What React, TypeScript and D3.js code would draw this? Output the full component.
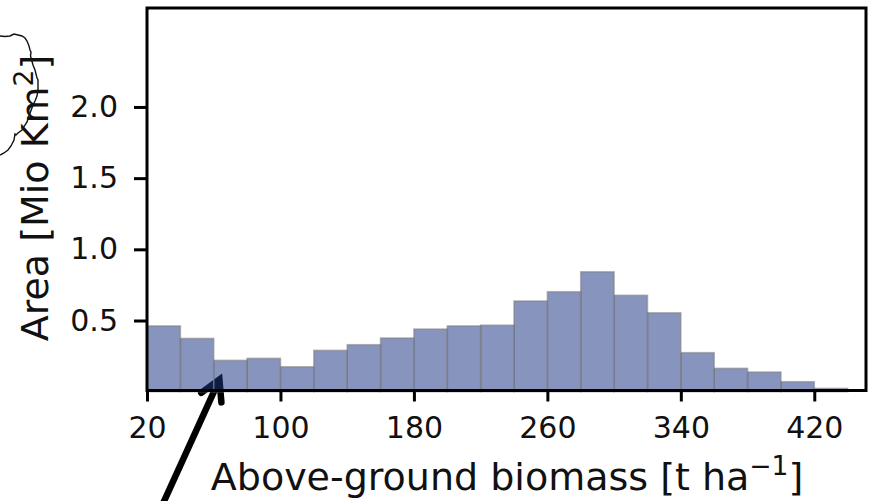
import * as d3 from "d3";
import { useEffect, useRef } from "react";

const binStarts = [20, 40, 60, 80, 100, 120, 140, 160, 180, 200, 220, 240, 260, 280, 300, 320, 340, 360, 380, 400, 420];
const areas = [0.462, 0.374, 0.22, 0.234, 0.175, 0.29, 0.33, 0.377, 0.44, 0.462, 0.467, 0.637, 0.702, 0.842, 0.677, 0.554, 0.274, 0.164, 0.138, 0.07, 0.023];
const binWidth = 20;

const xTicks = [20, 100, 180, 260, 340, 420];
const yTicks = [0.5, 1.0, 1.5, 2.0];

// arrow, in biomass / area units
const arrowTail = [29.8, -0.78];
const arrowTip = [63.4, 0.085];
const arrowBarbLeft = [52.5, -0.008];
const arrowBarbRight = [64.6, -0.075];

// stray coastline left over from the map next to the chart
const coastX = [0, 5, 10, 14, 18, 22, 25, 27, 29, 30, 31, 30.5, 33, 35, 36, 37, 38, 38, 37, 35, 33, 29, 27, 25, 22, 18, 16, 15, 14, 11, 8, 4, 0];
const coastY = [36, 36.5, 36, 34, 35, 36, 38, 41, 46, 50, 52, 56, 65, 70, 74, 78, 80, 90, 96, 101, 105, 116, 122, 125, 130, 133, 135, 134, 140, 146, 150, 153, 155];

const width = 873;
const height = 501;
const left = 147;
const right = 866;
const top = 8;
const bottom = 390.5;

export default function App() {
  const xAxisRef = useRef<SVGGElement>(null);
  const yAxisRef = useRef<SVGGElement>(null);

  const x = d3.scaleLinear().domain([20, 451]).range([left, right]);
  const y = d3.scaleLinear().domain([0, 2.695]).range([391.7, top]);
  const coast = d3.scaleLinear().domain([0, 40]).range([0, 40]);

  const coastLine = d3
    .line<number>()
    .x((d) => coast(d))
    .y((d, i) => coast(coastY[i]))
    .curve(d3.curveLinear);

  useEffect(() => {
    const xAxis = d3.axisBottom(x).tickValues(xTicks).tickSize(11).tickPadding(15).tickSizeOuter(0);
    const yAxis = d3.axisLeft(y).tickValues(yTicks).tickSize(13).tickPadding(16).tickFormat(d3.format(".1f")).tickSizeOuter(0);

    const gx = d3.select(xAxisRef.current!);
    gx.call(xAxis as any);
    const gy = d3.select(yAxisRef.current!);
    gy.call(yAxis as any);

    [gx, gy].forEach((g) => {
      g.select(".domain").remove();
      g.selectAll("line").attr("stroke", "#000").attr("stroke-width", 3);
      g.selectAll("text")
        .attr("fill", "#111")
        .style("font-family", "DejaVu Sans")
        .style("font-size", "30px");
    });
  }, []);

  const font = { fontFamily: "DejaVu Sans", fontSize: 38, fill: "#111" };

  return (
    <svg width={width} height={height} style={{ position: "absolute", left: 0, top: 0 }}>
      <path d={coastLine(coastX) ?? ""} fill="none" stroke="#111" strokeWidth={1.4} />

      {/* arrow goes under the bars, they tint it navy */}
      <g stroke="#000" strokeWidth={6.5} fill="none">
        <line x1={x(arrowTail[0])} y1={y(arrowTail[1])} x2={x(arrowTip[0])} y2={y(arrowTip[1])} />
        <path
          d={`M${x(arrowBarbLeft[0])},${y(arrowBarbLeft[1])}L${x(arrowTip[0])},${y(arrowTip[1])}L${x(arrowBarbRight[0])},${y(arrowBarbRight[1])}`}
          strokeLinecap="round"
        />
      </g>

      {binStarts.map((d, i) => (
        <rect
          key={d}
          x={x(d)}
          y={y(areas[i])}
          width={x(d + binWidth) - x(d)}
          height={y(0) - y(areas[i])}
          fill="rgb(28,53,130)"
          fillOpacity={0.53}
          stroke="#7f7f7f"
          strokeOpacity={0.55}
          strokeWidth={1.6}
        />
      ))}

      <g ref={xAxisRef} transform={`translate(0,${bottom})`} />
      <g ref={yAxisRef} transform={`translate(${left},0)`} />

      <rect x={left} y={top} width={right - left} height={bottom - top} fill="none" stroke="#000" strokeWidth={3} />

      <text x={507} y={490} textAnchor="middle" {...font}>
        Above-ground biomass [t ha
        <tspan dy={-15} fontSize={26.5}>−1</tspan>
        <tspan dy={15}>]</tspan>
      </text>
      <text transform="translate(48,198) rotate(-90)" textAnchor="middle" {...font}>
        Area [Mio Km
        <tspan dy={-15} fontSize={26.5}>2</tspan>
        <tspan dy={15}>]</tspan>
      </text>
    </svg>
  );
}
